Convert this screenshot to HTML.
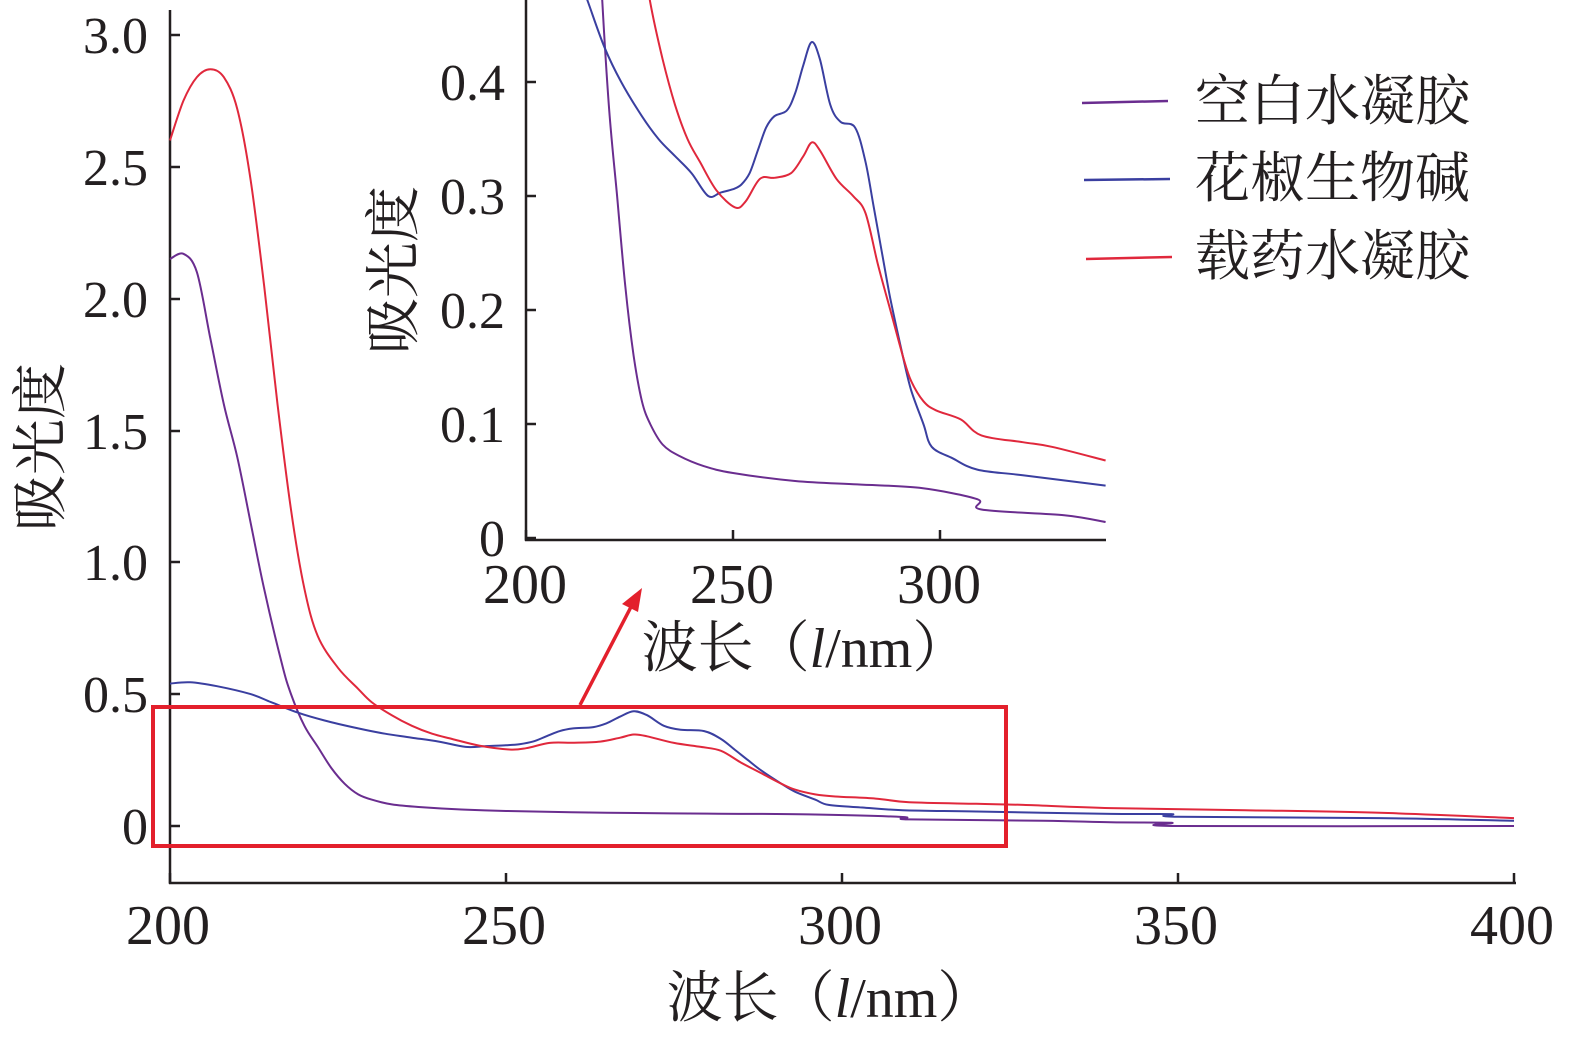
<!DOCTYPE html>
<html><head><meta charset="utf-8"><style>
html,body{margin:0;padding:0;background:#fff;}
svg text{font-family:"Liberation Serif","Noto Serif CJK SC",serif;fill:#231f20;}
</style></head><body>
<svg id="s" width="1575" height="1039" viewBox="0 0 1575 1039" xmlns="http://www.w3.org/2000/svg">
<g stroke="#231f20" stroke-width="2.5" fill="none">
<line x1="170" y1="10" x2="170" y2="884"/>
<line x1="169" y1="883" x2="1516" y2="883"/>
<line x1="526" y1="0" x2="526" y2="541"/>
<line x1="525" y1="540" x2="1106" y2="540"/>
</g>
<g id="ticks" stroke="#231f20" stroke-width="2.5"></g>
<g font-size="52">
<text x="148" y="53" text-anchor="end">3.0</text>
<text x="148" y="185" text-anchor="end">2.5</text>
<text x="148" y="317" text-anchor="end">2.0</text>
<text x="148" y="449" text-anchor="end">1.5</text>
<text x="148" y="580" text-anchor="end">1.0</text>
<text x="148" y="712" text-anchor="end">0.5</text>
<text x="148" y="844" text-anchor="end">0</text>
<text x="505" y="100" text-anchor="end">0.4</text>
<text x="505" y="214" text-anchor="end">0.3</text>
<text x="505" y="328" text-anchor="end">0.2</text>
<text x="505" y="442" text-anchor="end">0.1</text>
<text x="505" y="556" text-anchor="end">0</text>
</g>
<g font-size="56">
<text x="168" y="944" text-anchor="middle">200</text>
<text x="504" y="944" text-anchor="middle">250</text>
<text x="840" y="944" text-anchor="middle">300</text>
<text x="1176" y="944" text-anchor="middle">350</text>
<text x="1512" y="944" text-anchor="middle">400</text>
<text x="525" y="603" text-anchor="middle">200</text>
<text x="732" y="603" text-anchor="middle">250</text>
<text x="939" y="603" text-anchor="middle">300</text>
</g>
<g font-size="56">
<text x="830" y="1017" text-anchor="middle">波长（<tspan font-style="italic">l</tspan>/nm）</text>
<text x="805" y="667" text-anchor="middle">波长（<tspan font-style="italic">l</tspan>/nm）</text>
<text transform="translate(60,447) rotate(-90)" text-anchor="middle">吸光度</text>
<text transform="translate(413,270) rotate(-90)" text-anchor="middle">吸光度</text>
</g>
<g font-size="55">
<text x="1195" y="120">空白水凝胶</text>
<text x="1195" y="197">花椒生物碱</text>
<text x="1195" y="275">载药水凝胶</text>
</g>
<line x1="1082" y1="103" x2="1168" y2="101" stroke="#6a2d8f" stroke-width="2.5"/>
<line x1="1084" y1="180" x2="1170" y2="179" stroke="#3a3fa0" stroke-width="2.5"/>
<line x1="1086" y1="259" x2="1172" y2="257" stroke="#e0283c" stroke-width="2.5"/>
<g id="curves" fill="none" stroke-width="2"></g>
<rect x="153" y="707" width="853" height="139" fill="none" stroke="#e3202c" stroke-width="4"/>
<line x1="580" y1="705" x2="632" y2="605" stroke="#e3202c" stroke-width="3.5"/>
<polygon points="642,588 622,604 638,612" fill="#e3202c"/>
</svg>
<script>
var NS="http://www.w3.org/2000/svg";
var tk=document.getElementById("ticks");
function L(a,b,c,d){var l=document.createElementNS(NS,"line");l.setAttribute("x1",a);l.setAttribute("y1",b);l.setAttribute("x2",c);l.setAttribute("y2",d);tk.appendChild(l);}
[35,167,299,431,562,694,826].forEach(function(y){L(170,y,180,y);});
[170,506,842,1178,1514].forEach(function(x){L(x,883,x,873);});
[82,196,310,424,538].forEach(function(y){L(526,y,536,y);});
[526,733,940].forEach(function(x){L(x,540,x,530);});
var red=[[200,2.6],[202,2.75],[204,2.84],[206,2.87],[208,2.84],[210,2.72],[212,2.45],[214,2.05],[216,1.6],[218,1.2],[220,0.9],[222,0.72],[225,0.6],[228,0.52],[230,0.47],[233,0.42],[236,0.38],[239,0.35],[242,0.33],[246,0.305],[250.5,0.29],[253,0.295],[256.5,0.315],[260,0.316],[264,0.32],[267,0.335],[269,0.347],[271,0.34],[275,0.315],[279,0.3],[282,0.285],[285,0.24],[288,0.2],[291,0.16],[293,0.138],[296,0.12],[299,0.112],[305,0.104],[310,0.09],[320,0.084],[327,0.08],[340,0.068],[360,0.06],[380,0.05],[400,0.03]];
var blue=[[200,0.54],[203,0.545],[207,0.53],[212,0.5],[215,0.47],[219,0.43],[223,0.40],[228,0.37],[232,0.35],[236,0.335],[240,0.32],[244,0.30],[247,0.303],[250,0.306],[252,0.31],[254,0.32],[256,0.34],[258,0.36],[260,0.37],[263,0.375],[265,0.39],[267,0.415],[269,0.435],[271,0.42],[273.5,0.38],[276,0.365],[279.5,0.36],[282,0.33],[284,0.29],[286,0.25],[288,0.21],[291,0.16],[293,0.13],[296,0.1],[298,0.08],[303,0.07],[309,0.06],[320,0.055],[340,0.046],[349,0.045],[350,0.035],[380,0.03],[400,0.02]];
var pur=[[200,2.15],[202,2.17],[204,2.1],[206,1.85],[208,1.6],[210,1.4],[212,1.15],[214,0.9],[216.6,0.62],[218,0.5],[220,0.38],[222,0.3],[224,0.22],[226,0.16],[228,0.12],[230,0.1],[233,0.082],[237,0.072],[243,0.063],[250,0.057],[265,0.05],[280,0.047],[295,0.044],[309,0.034],[310,0.025],[330,0.02],[340,0.014],[349,0.012],[350,0.0],[400,0.0]];
var cv=document.getElementById("curves");
function draw(d,col,fx,fy,clip){var pts=[];d.forEach(function(q){if(clip&&q[0]>340)return;pts.push([fx(q[0]),fy(q[1])]);});
var p="M"+pts[0][0].toFixed(1)+","+pts[0][1].toFixed(1);
for(var i=0;i<pts.length-1;i++){var p0=pts[Math.max(0,i-1)],p1=pts[i],p2=pts[i+1],p3=pts[Math.min(pts.length-1,i+2)];
var c1=[p1[0]+(p2[0]-p0[0])/6,p1[1]+(p2[1]-p0[1])/6],c2=[p2[0]-(p3[0]-p1[0])/6,p2[1]-(p3[1]-p1[1])/6];
p+="C"+c1[0].toFixed(1)+","+c1[1].toFixed(1)+" "+c2[0].toFixed(1)+","+c2[1].toFixed(1)+" "+p2[0].toFixed(1)+","+p2[1].toFixed(1);}
var e=document.createElementNS(NS,"path");e.setAttribute("d",p);e.setAttribute("stroke",col);if(clip)e.setAttribute("clip-path","url(#ic)");cv.appendChild(e);}
var defs=document.createElementNS(NS,"defs");defs.innerHTML='<clipPath id="ic"><rect x="527" y="0" width="580" height="540"/></clipPath>';document.getElementById("s").appendChild(defs);
var mx=function(w){return 170+(w-200)*6.72;},my=function(a){return 826-a*263.7;};
var ix=function(w){return 526+(w-200)*4.14;},iy=function(a){return 538-a*1140;};
[[pur,"#6a2d8f"],[blue,"#3a3fa0"],[red,"#e0283c"]].forEach(function(s){draw(s[0],s[1],mx,my,false);draw(s[0],s[1],ix,iy,true);});
</script>
</body></html>
